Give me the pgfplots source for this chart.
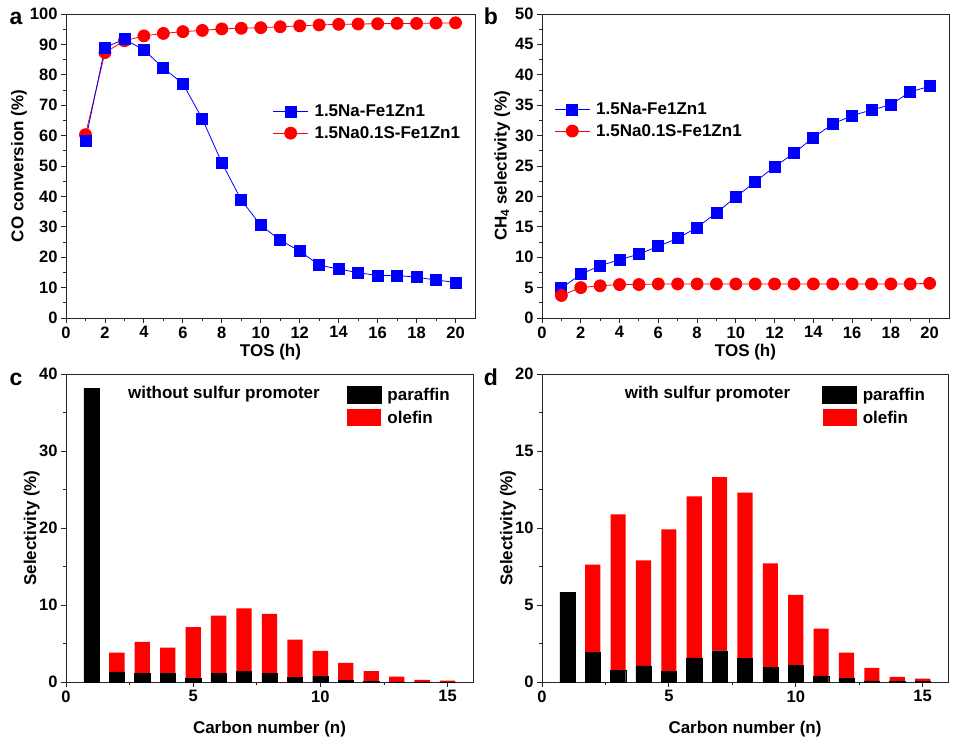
\documentclass[border=0pt]{standalone}
\usepackage{fontspec}
\setmainfont{Liberation Sans}
\usepackage{pgfplots}
\pgfplotsset{compat=1.18}

\pgfplotsset{
  myaxis/.style={
    scale only axis,
    anchor=south west,
    axis line style={line width=0.9pt, black!85},
    tick style={line width=0.9pt, black!85},
    tick align=outside,
    tick pos=left,
    major tick length=5pt,
    minor tick length=3pt,
    /pgf/number format/assume math mode=true,
    tick label style={font=\fontsize{16.5}{19}\selectfont\bfseries},
    label style={font=\fontsize{17}{20}\selectfont\bfseries},
    legend style={font=\fontsize{17}{20}\selectfont\bfseries, draw=none, fill=none, inner sep=0pt,
      row sep=4pt, /tikz/every odd column/.append style={column sep=4pt}},
    legend cell align=left,
  },
  lineleg/.style={
    legend image code/.code={\draw[##1, mark repeat=2, mark phase=2] plot coordinates {(0pt,0pt) (17.5pt,0pt) (35pt,0pt)};}
  },
  barleg/.style={
    legend image code/.code={\fill[##1] (0pt,-8.5pt) rectangle (34pt,8.5pt);}
  },
  blueser/.style={color=blue, line width=0.8pt, mark=square*, mark size=5.5pt, mark options={solid}},
  redser/.style={color=red, line width=0.8pt, mark=*, mark size=6pt, mark options={solid}},
}

\pgfplotstableread{
x conv
1 58.3
2 89.0
3 91.7
4 88.2
5 82.2
6 77.1
7 65.5
8 51.1
9 38.8
10 30.5
11 25.6
12 22.0
13 17.4
14 16.1
15 14.9
16 14.0
17 14.0
18 13.4
19 12.5
20 11.7
}\convNa

\pgfplotstableread{
x conv
1 60.3
2 87.3
3 91.2
4 92.8
5 93.6
6 94.2
7 94.6
8 95.1
9 95.3
10 95.5
11 95.8
12 96.1
13 96.4
14 96.6
15 96.7
16 96.8
17 96.9
18 96.9
19 97.0
20 97.1
}\convNaS

\pgfplotstableread{
x sel
1 4.9
2 7.2
3 8.6
4 9.6
5 10.5
6 11.8
7 13.1
8 14.9
9 17.3
10 19.9
11 22.4
12 24.9
13 27.1
14 29.7
15 31.9
16 33.3
17 34.2
18 35.1
19 37.2
20 38.1
}\chNa

\pgfplotstableread{
x sel
1 3.7
2 5.0
3 5.3
4 5.5
5 5.5
6 5.6
7 5.6
8 5.6
9 5.6
10 5.6
11 5.6
12 5.6
13 5.6
14 5.6
15 5.6
16 5.6
17 5.6
18 5.6
19 5.6
20 5.7
}\chNaS

\pgfplotstableread{
n paraffin olefin
1 38.1 0
2 1.30 2.50
3 1.15 4.05
4 1.15 3.30
5 0.48 6.65
6 1.15 7.48
7 1.40 8.17
8 1.08 7.77
9 0.62 4.90
10 0.76 3.29
11 0.24 2.24
12 0.05 1.36
13 0.03 0.66
14 0.02 0.26
15 0.01 0.18
}\withoutS

\pgfplotstableread{
n paraffin olefin
1 5.82 0
2 1.94 5.68
3 0.75 10.14
4 1.05 6.85
5 0.67 9.24
6 1.57 10.49
7 2.03 11.27
8 1.54 10.76
9 0.95 6.75
10 1.06 4.59
11 0.40 3.06
12 0.22 1.69
13 0.08 0.84
14 0.04 0.29
15 0.04 0.18
}\withS

\begin{document}
\begin{tikzpicture}
\useasboundingbox (0pt,0pt) rectangle (960pt,748pt);

% panel a
\begin{axis}[myaxis, at={(66pt,430pt)}, width=409pt, height=304pt,
  xmin=0, xmax=21, ymin=0, ymax=100,
  xtick={0,2,...,20}, minor x tick num=1,
  ytick={0,10,...,100}, minor y tick num=1,
  xlabel={TOS (h)}, ylabel={CO conversion (\%)},
  xlabel style={at={(axis description cs:0.5,-0.112)}, anchor=center},
  ylabel style={at={(axis description cs:-0.115,0.5)}, anchor=center},
  lineleg, reverse legend,
  legend style={at={(axis description cs:0.505,0.707)}, anchor=north west},
]
\addplot[redser] table[x=x,y=conv] {\convNaS};
\addlegendentry{1.5Na0.1S-Fe1Zn1}
\addplot[blueser] table[x=x,y=conv] {\convNa};
\addlegendentry{1.5Na-Fe1Zn1}
\end{axis}

% panel b
\begin{axis}[myaxis, at={(542pt,430pt)}, width=407pt, height=304pt,
  xmin=0, xmax=21, ymin=0, ymax=50,
  xtick={0,2,...,20}, minor x tick num=1,
  ytick={0,5,...,50}, minor y tick num=1,
  xlabel={TOS (h)}, ylabel={CH\textsubscript{4} selectivity (\%)},
  xlabel style={at={(axis description cs:0.5,-0.112)}, anchor=center},
  ylabel style={at={(axis description cs:-0.098,0.5)}, anchor=center},
  lineleg,
  legend style={at={(axis description cs:0.03,0.714)}, anchor=north west},
]
\addplot[blueser] table[x=x,y=sel] {\chNa};
\addlegendentry{1.5Na-Fe1Zn1}
\addplot[redser] table[x=x,y=sel] {\chNaS};
\addlegendentry{1.5Na0.1S-Fe1Zn1}
\end{axis}

% panel c
\begin{axis}[myaxis, at={(66pt,66pt)}, width=407pt, height=308pt,
  ybar stacked, bar width=0.6,
  xmin=0, xmax=16, ymin=0, ymax=40,
  xtick={0,5,10,15}, minor x tick num=1,
  ytick={0,10,...,40}, minor y tick num=1,
  xlabel={Carbon number (n)}, ylabel={Selectivity (\%)},
  xlabel style={at={(axis description cs:0.5,-0.153)}, anchor=center},
  ylabel style={at={(axis description cs:-0.084,0.5)}, anchor=center},
  barleg,
  legend style={at={(axis description cs:0.69,0.962)}, anchor=north west, row sep=5pt},
]
\addplot[fill=black, draw=black] table[x=n,y=paraffin] {\withoutS};
\addlegendentry{paraffin}
\addplot[fill=red, draw=none] table[x=n,y=olefin] {\withoutS};
\addlegendentry{olefin}
\node[font=\fontsize{17}{20}\selectfont\bfseries] at (axis description cs:0.388,0.935) {without sulfur promoter};
\end{axis}

% panel d
\begin{axis}[myaxis, at={(542pt,66pt)}, width=406pt, height=308pt,
  ybar stacked, bar width=0.6,
  xmin=0, xmax=16, ymin=0, ymax=20,
  xtick={0,5,10,15}, minor x tick num=1,
  ytick={0,5,...,20}, minor y tick num=1,
  xlabel={Carbon number (n)}, ylabel={Selectivity (\%)},
  xlabel style={at={(axis description cs:0.5,-0.153)}, anchor=center},
  ylabel style={at={(axis description cs:-0.084,0.5)}, anchor=center},
  barleg,
  legend style={at={(axis description cs:0.69,0.962)}, anchor=north west, row sep=5pt},
]
\addplot[fill=black, draw=black] table[x=n,y=paraffin] {\withS};
\addlegendentry{paraffin}
\addplot[fill=red, draw=none] table[x=n,y=olefin] {\withS};
\addlegendentry{olefin}
\node[font=\fontsize{17}{20}\selectfont\bfseries] at (axis description cs:0.4076,0.935) {with sulfur promoter};
\end{axis}

\node[anchor=base, font=\fontsize{23}{27}\selectfont\bfseries] at (16pt,723pt) {a};
\node[anchor=base, font=\fontsize{23}{27}\selectfont\bfseries] at (491pt,723pt) {b};
\node[anchor=base, font=\fontsize{23}{27}\selectfont\bfseries] at (16pt,363pt) {c};
\node[anchor=base, font=\fontsize{23}{27}\selectfont\bfseries] at (491pt,363pt) {d};
\end{tikzpicture}
\end{document}
